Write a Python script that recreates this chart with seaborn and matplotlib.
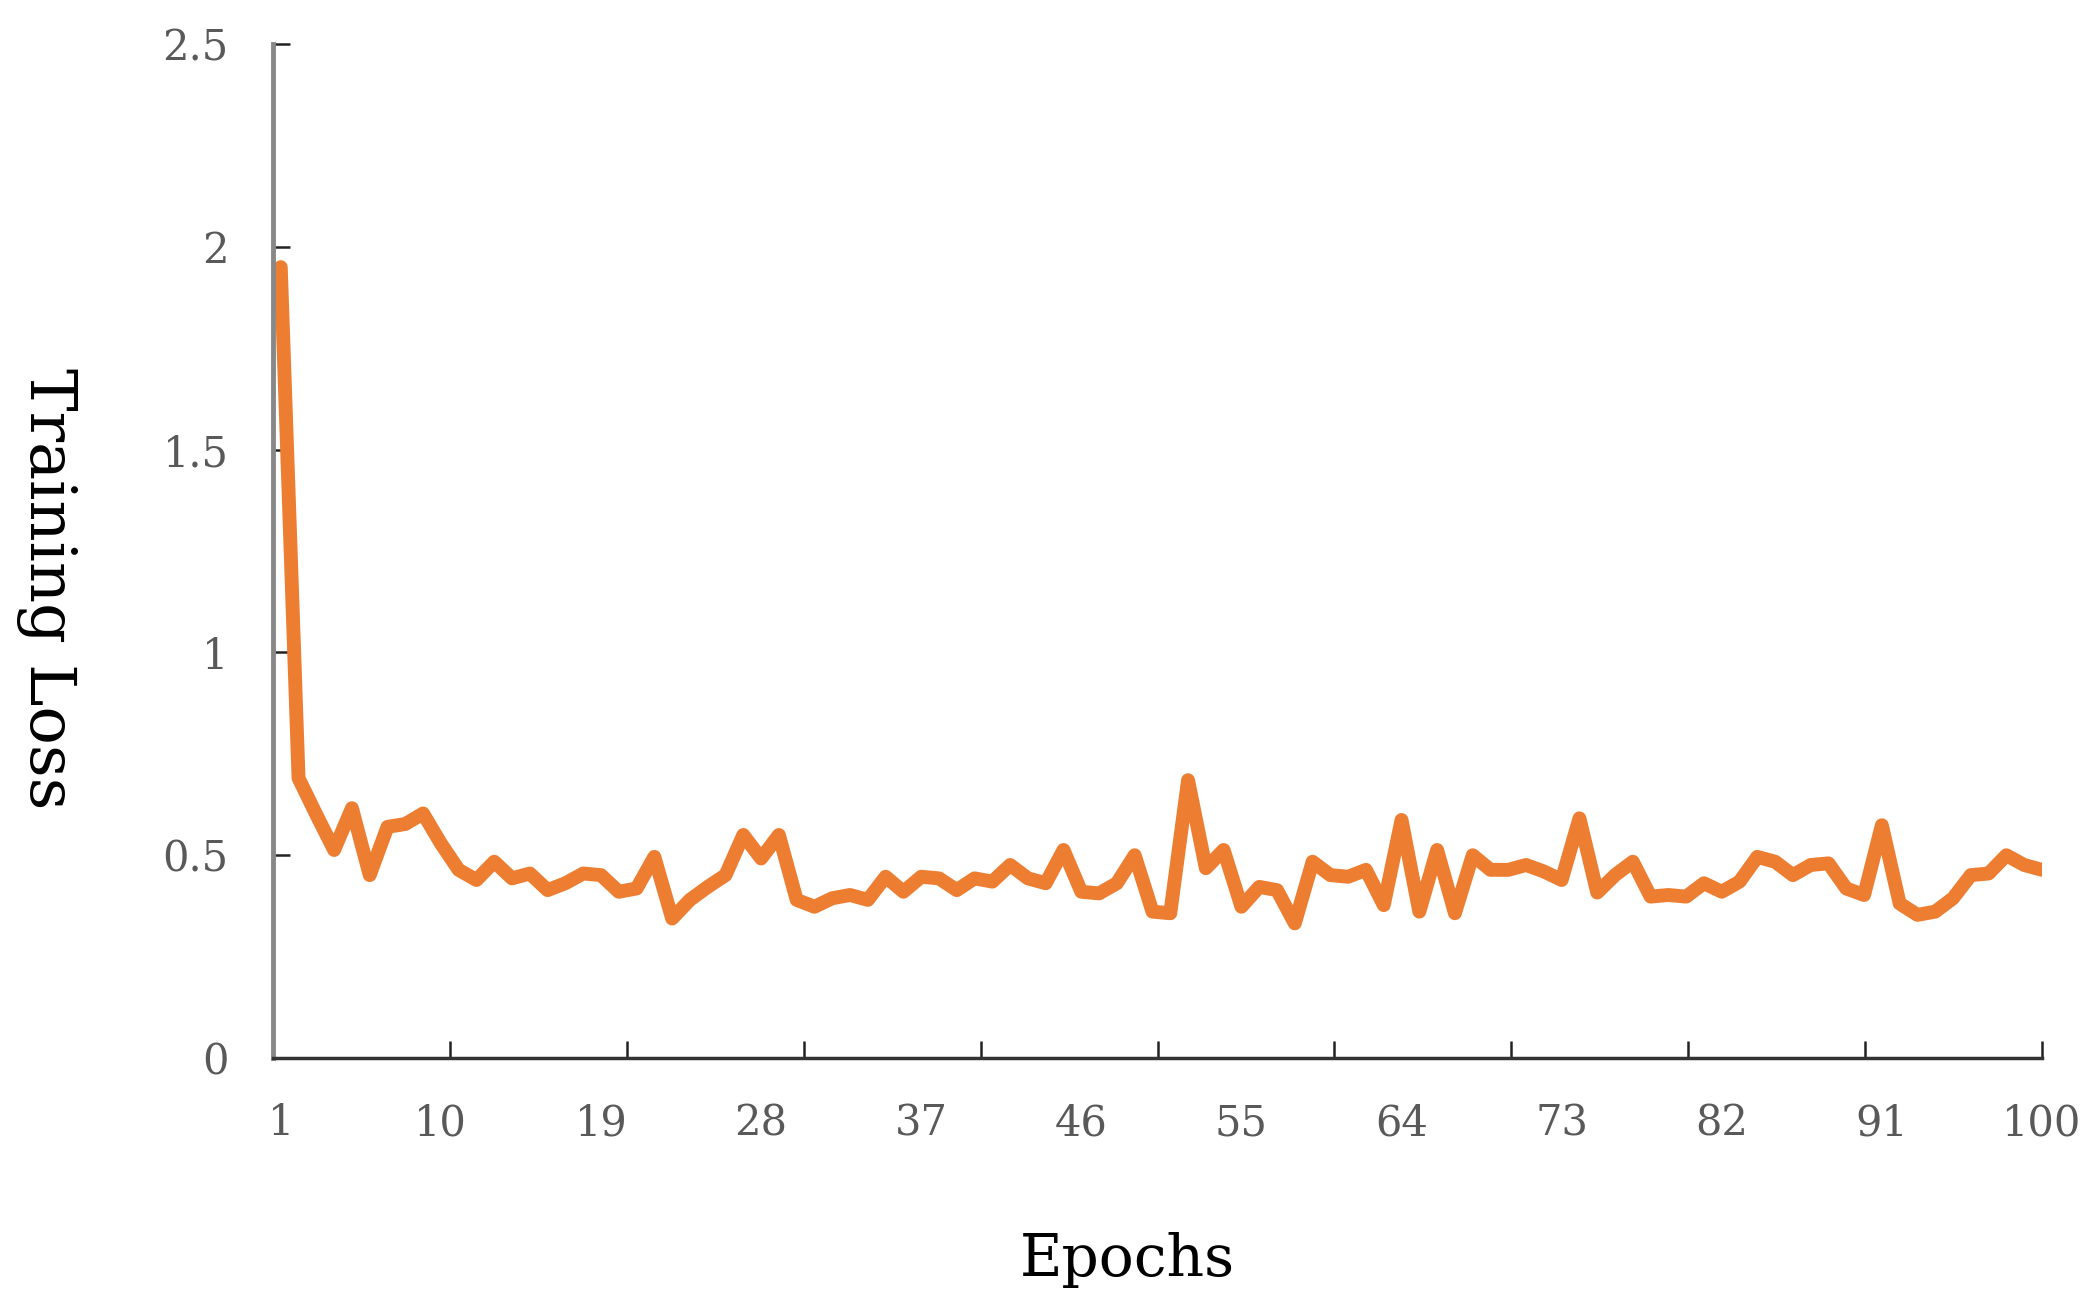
import numpy as np
import pandas as pd
import matplotlib
matplotlib.use("Agg")
import matplotlib.pyplot as plt
import seaborn as sns
from matplotlib.ticker import FixedLocator, FixedFormatter

epochs = list(range(1, 101))
loss = [1.95, 0.69, 0.60, 0.513, 0.616, 0.451, 0.570, 0.577, 0.603, 0.529,
        0.464, 0.439, 0.484, 0.443, 0.455, 0.414, 0.431, 0.455, 0.451, 0.410,
        0.418, 0.496, 0.344, 0.390, 0.422, 0.451, 0.550, 0.492, 0.550, 0.390,
        0.373, 0.394, 0.402, 0.390, 0.447, 0.410, 0.447, 0.443, 0.414, 0.443,
        0.435, 0.476, 0.443, 0.431, 0.513, 0.410, 0.406, 0.431, 0.500, 0.361,
        0.357, 0.685, 0.468, 0.513, 0.373, 0.422, 0.414, 0.332, 0.484, 0.451,
        0.447, 0.464, 0.377, 0.587, 0.361, 0.513, 0.357, 0.500, 0.464, 0.464,
        0.476, 0.460, 0.439, 0.591, 0.408, 0.451, 0.484, 0.398, 0.402, 0.398,
        0.431, 0.410, 0.435, 0.496, 0.484, 0.451, 0.476, 0.480, 0.418, 0.402,
        0.574, 0.381, 0.353, 0.361, 0.394, 0.451, 0.455, 0.500, 0.476, 0.464]
x_tick_labels = [1, 10, 19, 28, 37, 46, 55, 64, 73, 82, 91, 100]
y_ticks = [0, 0.5, 1, 1.5, 2, 2.5]
y_tick_labels = ["0", "0.5", "1", "1.5", "2", "2.5"]

sns.set_style("white")
plt.rcParams['font.family'] = ['DejaVu Serif']

df = pd.DataFrame({"Epochs": epochs, "Training Loss": loss})

fig = plt.figure(figsize=(20.86, 13.15), dpi=100)
ax = fig.add_axes([0.1309, 0.1954, 0.9789 - 0.1309, 0.9665 - 0.1954])

sns.lineplot(data=df, x="Epochs", y="Training Loss", ax=ax, color="#ED7D31",
             linewidth=10, solid_joinstyle="round", solid_capstyle="round")

x_left, x_right = 0.567, 100.0
ax.set_xlim(x_left, x_right)
ax.set_ylim(0, 2.5)

# tick marks on category boundaries, labels every 9 epochs
ax.xaxis.remove_overlapping_locs = False
ax.xaxis.set_major_locator(FixedLocator(list(np.linspace(x_left, x_right, 11))))
ax.xaxis.set_major_formatter(FixedFormatter([""] * 11))
ax.xaxis.set_minor_locator(FixedLocator(x_tick_labels))
ax.xaxis.set_minor_formatter(FixedFormatter([str(v) for v in x_tick_labels]))
ax.tick_params(axis="x", which="major", direction="in", length=12, width=1.8,
               color="#222222", bottom=True)
ax.tick_params(axis="x", which="minor", length=0, pad=32, labelsize=30,
               labelcolor="#595959", bottom=True)

ax.yaxis.set_major_locator(FixedLocator(y_ticks))
ax.yaxis.set_major_formatter(FixedFormatter(y_tick_labels))
ax.tick_params(axis="y", which="major", direction="in", length=12, width=1.8,
               color="#222222", pad=32, labelsize=30, labelcolor="#595959", left=True)

for side in ["top", "right"]:
    ax.spines[side].set_visible(False)
ax.spines["left"].set_color("#888888")
ax.spines["left"].set_linewidth(3.5)
ax.spines["bottom"].set_color("#333333")
ax.spines["bottom"].set_linewidth(2.5)

ax.set_xlabel("Epochs", fontsize=42, color="black")
ax.set_ylabel("Training Loss", fontsize=46, color="black", rotation=-90,
              va="center", ha="center")
ax.yaxis.set_label_coords(-0.128, 0.463)
ax.xaxis.set_label_coords(0.483, -0.172)

fig.savefig("out.png", dpi=100, facecolor="white")
